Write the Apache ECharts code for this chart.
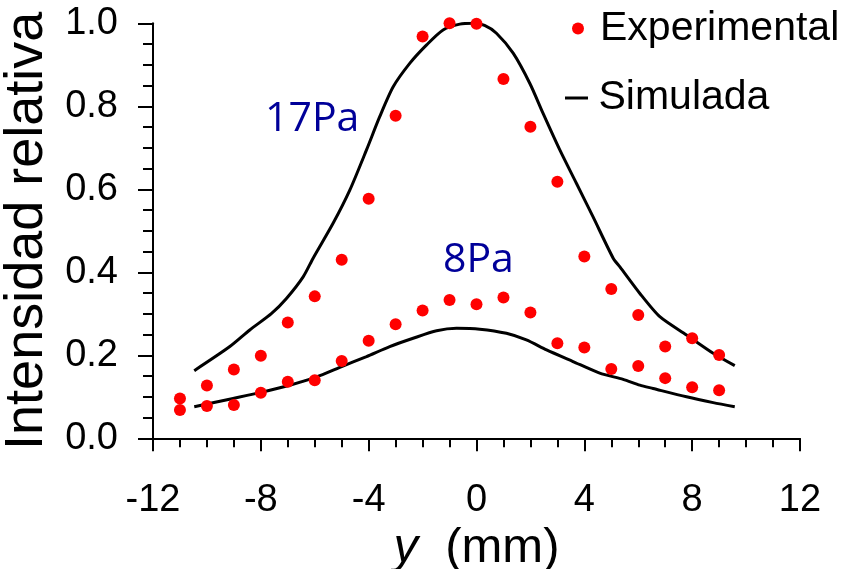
<!DOCTYPE html>
<html>
<head>
<meta charset="utf-8">
<script src="https://cdn.jsdelivr.net/npm/echarts@6/dist/echarts.min.js"></script>
<style>
html,body{margin:0;padding:0;background:#fff;}
#chart{width:852px;height:569px;}
</style>
</head>
<body>
<div id="chart"></div>
<script>
// Experimental positions (mm)
const expX = [-11,-10,-9,-8,-7,-6,-5,-4,-3,-2,-1,0,1,2,3,4,5,6,7,8,9];
// Experimental relative intensity, 17 Pa
const exp17 = [0.096,0.127,0.166,0.199,0.279,0.342,0.430,0.577,0.777,0.968,1.000,0.999,0.866,0.751,0.618,0.438,0.360,0.297,0.221,0.241,0.201];
// Experimental relative intensity, 8 Pa
const exp8 = [0.068,0.078,0.080,0.110,0.136,0.140,0.186,0.235,0.275,0.308,0.333,0.323,0.339,0.303,0.229,0.219,0.167,0.174,0.145,0.123,0.116];

// Simulated curve, 17 Pa
const sim17X = [-10.47,-9.15,-8.41,-7.60,-7.05,-6.43,-6.06,-5.32,-4.70,-4.08,-3.59,-3.09,-2.47,-1.85,-1.24,-0.62,-0.12,0.30,0.74,1.36,1.98,2.47,3.09,3.71,4.32,5.07,5.32,6.06,6.80,7.79,8.78,9.58];
const sim17Y = [0.163,0.221,0.261,0.301,0.337,0.389,0.434,0.518,0.598,0.695,0.775,0.847,0.904,0.948,0.984,0.998,1.000,0.995,0.976,0.928,0.855,0.783,0.695,0.614,0.534,0.434,0.413,0.349,0.293,0.249,0.205,0.175];

// Simulated curve, 8 Pa
const sim8X = [-10.47,-9.03,-8.04,-6.93,-5.93,-5.07,-4.08,-3.22,-2.35,-1.48,-0.74,0.12,1.11,1.85,2.60,3.58,4.57,5.44,6.06,6.55,7.79,8.78,9.58];
const sim8Y = [0.076,0.096,0.110,0.128,0.148,0.171,0.197,0.221,0.241,0.259,0.265,0.263,0.253,0.237,0.213,0.185,0.157,0.142,0.128,0.120,0.100,0.086,0.076];

const xTicks = {min:-12, max:12, interval:4};
const yTicks = {min:0, max:1, interval:0.2};

const zip = (a,b) => a.map((v,i)=>[v,b[i]]);
const FONT = "'Liberation Sans', Arial, Helvetica, sans-serif";

const chart = echarts.init(document.getElementById('chart'), null, {renderer:'canvas'});
chart.setOption({
  backgroundColor:'#fff',
  animation:false,
  grid:{left:153, right:52, top:23.3, bottom:130.7, outerBoundsMode:'none'},
  xAxis:{
    type:'value', min:xTicks.min, max:xTicks.max, interval:xTicks.interval,
    name:'{i|y}  (mm)', nameLocation:'middle', nameGap:82,
    nameTextStyle:{fontFamily:FONT, fontSize:49, color:'#000',
      rich:{i:{fontFamily:FONT, fontSize:49, fontStyle:'italic', color:'#000'}}},
    axisLine:{show:true, onZero:false, lineStyle:{color:'#000', width:2}},
    axisTick:{show:true, inside:false, length:13, lineStyle:{color:'#000', width:2}},
    minorTick:{show:true, splitNumber:4, length:9, lineStyle:{color:'#000', width:2}},
    splitLine:{show:false},
    axisLabel:{fontFamily:FONT, fontSize:38, color:'#000', margin:43}
  },
  yAxis:{
    type:'value', min:yTicks.min, max:yTicks.max, interval:yTicks.interval,
    name:'Intensidad relativa', nameLocation:'middle', nameGap:87, nameRotate:90,
    nameTextStyle:{fontFamily:FONT, fontSize:54, color:'#000'},
    axisLine:{show:true, onZero:false, lineStyle:{color:'#000', width:2}},
    axisTick:{show:true, inside:false, length:15, lineStyle:{color:'#000', width:2}},
    minorTick:{show:true, splitNumber:4, length:10, lineStyle:{color:'#000', width:2}},
    splitLine:{show:false},
    axisLabel:{fontFamily:FONT, fontSize:38, color:'#000', margin:35,
      formatter:v=>v.toFixed(1)}
  },
  legend:[
    {data:[{name:'Experimental', icon:'circle'}], left:572, top:8, padding:0,
     itemWidth:34, itemHeight:12, symbolKeepAspect:true,
     textStyle:{fontFamily:FONT, fontSize:41, color:'#000'}},
    {data:[{name:'Simulada', icon:'path://M0,0L23,0L23,3L0,3Z'}], left:565, top:77.5, padding:0,
     itemWidth:34, itemHeight:3, symbolKeepAspect:true,
     itemStyle:{color:'#000'},
     textStyle:{fontFamily:FONT, fontSize:41, color:'#000'}}
  ],
  graphic:[
    {type:'text', x:265, y:119, style:{text:'17Pa', fill:'#000099',
      font:"41px 'Open Sans', 'Noto Sans', sans-serif", textAlign:'left', textVerticalAlign:'middle', align:'left', verticalAlign:'middle'}},
    {type:'text', x:443, y:260, style:{text:'8Pa', fill:'#000099',
      font:"41px 'Open Sans', 'Noto Sans', sans-serif", textAlign:'left', textVerticalAlign:'middle', align:'left', verticalAlign:'middle'}}
  ],
  series:[
    {name:'Simulada', type:'line', data:zip(sim17X, sim17Y), showSymbol:false, smooth:0.25,
     lineStyle:{color:'#000', width:3}, itemStyle:{color:'#000'}, z:2},
    {name:'Simulada', type:'line', data:zip(sim8X, sim8Y), showSymbol:false, smooth:0.25,
     lineStyle:{color:'#000', width:3}, itemStyle:{color:'#000'}, z:2},
    {name:'Experimental', type:'scatter', data:zip(expX, exp17), symbol:'circle', symbolSize:12,
     itemStyle:{color:'#ff0000', opacity:1}, z:3},
    {name:'Experimental', type:'scatter', data:zip(expX, exp8), symbol:'circle', symbolSize:12,
     itemStyle:{color:'#ff0000', opacity:1}, z:3}
  ]
});
</script>
</body>
</html>
